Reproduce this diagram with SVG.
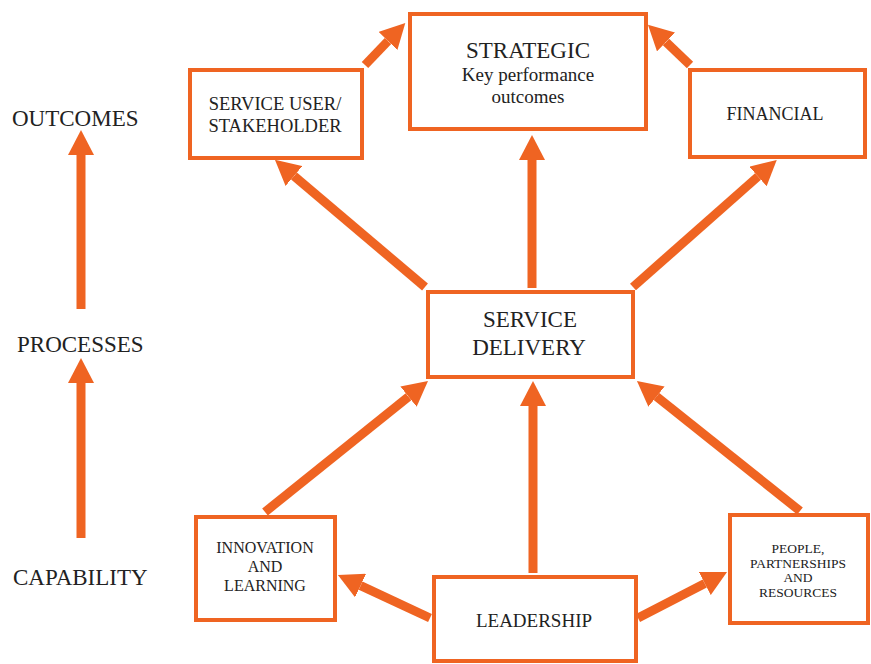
<svg xmlns="http://www.w3.org/2000/svg" width="871" height="664" viewBox="0 0 871 664">
<style>
.box{fill:#fff;stroke:#EF6422;stroke-width:4}
.arr{stroke:#EF6422;stroke-width:9;fill:none;marker-end:url(#ah)}
.t{font-family:'Liberation Serif','Times New Roman','DejaVu Serif',serif;fill:#222;text-anchor:middle}
.side{font-size:23px;text-anchor:start}
</style>
<defs>
<marker id="ah" markerUnits="userSpaceOnUse" markerWidth="25" markerHeight="26" viewBox="0 -13 25 26" refX="0" refY="0" orient="auto">
<path d="M0,-13 L25,0 L0,13 z" fill="#EF6422"/>
</marker>
</defs>
<rect width="871" height="664" fill="#fff"/>
<g id="connectors">
<line class="arr" x1="81" y1="309" x2="81" y2="155"/>
<line class="arr" x1="81" y1="538" x2="81" y2="383"/>
<line class="arr" x1="425" y1="287" x2="294" y2="176"/>
<line class="arr" x1="365" y1="65" x2="388" y2="41"/>
<line class="arr" x1="532" y1="288" x2="532" y2="160"/>
<line class="arr" x1="633" y1="287" x2="758" y2="176.5"/>
<line class="arr" x1="690" y1="65" x2="666" y2="42"/>
<line class="arr" x1="265" y1="512" x2="408.5" y2="396.7"/>
<line class="arr" x1="533" y1="573" x2="533" y2="406"/>
<line class="arr" x1="800" y1="511" x2="656.5" y2="396.6"/>
<line class="arr" x1="430" y1="618" x2="360.6" y2="585.6"/>
<line class="arr" x1="638" y1="618" x2="704.8" y2="583.5"/>
</g>
<g id="labels" class="t" font-family="Liberation Serif, serif">
<text class="t side" x="12" y="126">OUTCOMES</text>
<text class="t side" x="17" y="352">PROCESSES</text>
<text class="t side" x="13" y="585">CAPABILITY</text>
</g>
<g id="strategic">
<rect class="box" x="410" y="14" width="236" height="115"/>
<text class="t" x="528" y="58" font-size="23">STRATEGIC</text>
<text class="t" x="528" y="81" font-size="19">Key performance</text>
<text class="t" x="528" y="103" font-size="19">outcomes</text>
</g>
<g id="service-user">
<rect class="box" x="190" y="70" width="172" height="88"/>
<text class="t" x="275" y="110" font-size="18.5">SERVICE USER/</text>
<text class="t" x="275" y="132" font-size="18.5">STAKEHOLDER</text>
</g>
<g id="financial">
<rect class="box" x="690" y="70" width="175" height="87"/>
<text class="t" x="775" y="120" font-size="18">FINANCIAL</text>
</g>
<g id="service-delivery">
<rect class="box" x="428" y="292" width="205" height="85"/>
<text class="t" x="530" y="327" font-size="23">SERVICE</text>
<text class="t" x="529" y="355" font-size="23">DELIVERY</text>
</g>
<g id="innovation">
<rect class="box" x="196" y="517" width="139" height="103"/>
<text class="t" x="265" y="553" font-size="16">INNOVATION</text>
<text class="t" x="265" y="572" font-size="16">AND</text>
<text class="t" x="265" y="591" font-size="16">LEARNING</text>
</g>
<g id="leadership">
<rect class="box" x="434" y="577" width="202" height="84"/>
<text class="t" x="534" y="627" font-size="19">LEADERSHIP</text>
</g>
<g id="people">
<rect class="box" x="730" y="515" width="138" height="108"/>
<text class="t" x="798" y="553" font-size="13.5">PEOPLE,</text>
<text class="t" x="798" y="568" font-size="13.5">PARTNERSHIPS</text>
<text class="t" x="798" y="582" font-size="13.5">AND</text>
<text class="t" x="798" y="597" font-size="13.5">RESOURCES</text>
</g>
</svg>
